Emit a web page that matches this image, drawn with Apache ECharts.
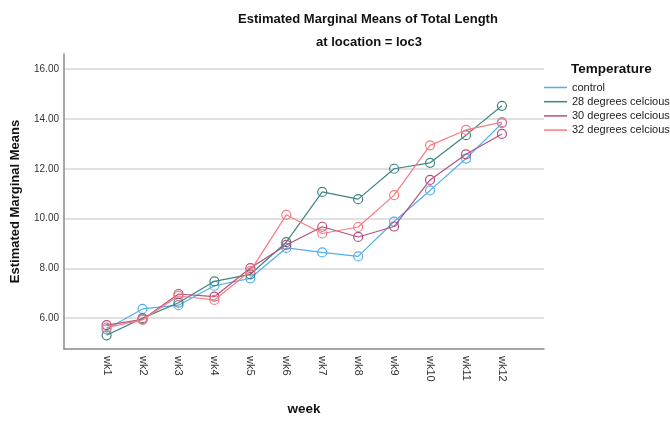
<!DOCTYPE html>
<html>
<head>
<meta charset="utf-8">
<script src="https://cdn.jsdelivr.net/npm/echarts@6/dist/echarts.min.js"></script>
<style>
  html, body { margin: 0; padding: 0; background: #fff; }
  #chart { width: 670px; height: 421px; }
</style>
</head>
<body>
<div id="chart"></div>
<script>
// Weeks on the horizontal axis
const weeks = ['wk1', 'wk2', 'wk3', 'wk4', 'wk5', 'wk6', 'wk7', 'wk8', 'wk9', 'wk10', 'wk11', 'wk12'];

// Estimated marginal means of total length per temperature group
const control = [5.55, 6.37, 6.52, 7.30, 7.60, 8.82, 8.64, 8.48, 9.88, 11.13, 12.41, 13.83];
const deg28   = [5.31, 6.00, 6.62, 7.48, 7.76, 9.05, 11.07, 10.78, 12.00, 12.24, 13.35, 14.53];
const deg30   = [5.72, 5.95, 6.97, 6.86, 8.01, 8.94, 9.67, 9.26, 9.68, 11.55, 12.58, 13.40];
const deg32   = [5.62, 5.93, 6.89, 6.73, 7.89, 10.15, 9.40, 9.66, 10.94, 12.94, 13.56, 13.87];

const seriesNames = ['control', '28 degrees celcious', '30 degrees celcious', '32 degrees celcious'];
const seriesValues = [control, deg28, deg30, deg32];
const colors = ['#52aef0', '#3f8481', '#b2527d', '#fb7a82'];

const yTicks = [6, 8, 10, 12, 14, 16];
const font = '"Liberation Sans", Arial, sans-serif';

const chart = echarts.init(document.getElementById('chart'), null, { renderer: 'canvas' });

const series = seriesValues.map((vals, i) => ({
  name: seriesNames[i],
  type: 'line',
  data: vals.map((v, j) => [j, v]),
  symbol: 'circle',
  symbolSize: 9,
  showSymbol: true,
  lineStyle: { color: colors[i], width: 1.2 },
  itemStyle: { color: 'rgba(255,255,255,0)', borderColor: colors[i], borderWidth: 1.2 },
  emphasis: { disabled: true },
  z: 2 + i
}));

chart.setOption({
  animation: false,
  textStyle: { fontFamily: font },
  title: [
    {
      text: 'Estimated Marginal Means of Total Length',
      left: 363, top: 8, textAlign: 'center',
      textStyle: { fontSize: 13, fontWeight: 'bold', color: '#111', fontFamily: font }
    },
    {
      text: 'at location = loc3',
      left: 364, top: 31, textAlign: 'center',
      textStyle: { fontSize: 13, fontWeight: 'bold', color: '#111', fontFamily: font }
    },
    {
      text: 'Temperature',
      left: 566, top: 57,
      textStyle: { fontSize: 13.5, fontWeight: 'bold', color: '#111', fontFamily: font }
    }
  ],
  legend: {
    orient: 'vertical',
    left: 544, top: 82,
    padding: 0,
    itemWidth: 23, itemHeight: 1.5,
    itemGap: 3.2,
    icon: 'rect',
    textStyle: { fontSize: 11, color: '#222', fontFamily: font },
    data: seriesNames.map((n, i) => ({ name: n, itemStyle: { color: colors[i], borderWidth: 0 } }))
  },
  grid: { left: 64, right: 126, top: 54, bottom: 68, containLabel: false },
  xAxis: {
    type: 'value',
    min: -1.185, max: 12.17,
    name: 'week',
    nameLocation: 'middle',
    nameGap: 53,
    nameTextStyle: { fontSize: 13.5, fontWeight: 'bold', color: '#111', fontFamily: font },
    axisLine: { show: true, onZero: false, lineStyle: { color: '#8a8a8a', width: 1.5 } },
    axisTick: { show: false },
    splitLine: { show: false },
    axisLabel: {
      customValues: weeks.map((w, i) => i),
      rotate: -90,
      fontSize: 11,
      color: '#333',
      margin: 7,
      formatter: v => weeks[Math.round(v)]
    }
  },
  yAxis: {
    type: 'value',
    min: 4.76, max: 16.61,
    name: 'Estimated Marginal Means',
    nameLocation: 'middle',
    nameGap: 42,
    nameTextStyle: { fontSize: 13, fontWeight: 'bold', color: '#111', fontFamily: font },
    axisLine: { show: true, onZero: false, lineStyle: { color: '#8a8a8a', width: 1.5 } },
    axisTick: { show: false, customValues: yTicks },
    splitLine: { show: true, lineStyle: { color: '#d6d6d6', width: 1.5 } },
    axisLabel: {
      customValues: yTicks,
      fontSize: 10,
      color: '#333',
      margin: 5,
      formatter: v => v.toFixed(2)
    }
  },
  series: series
});
</script>
</body>
</html>
